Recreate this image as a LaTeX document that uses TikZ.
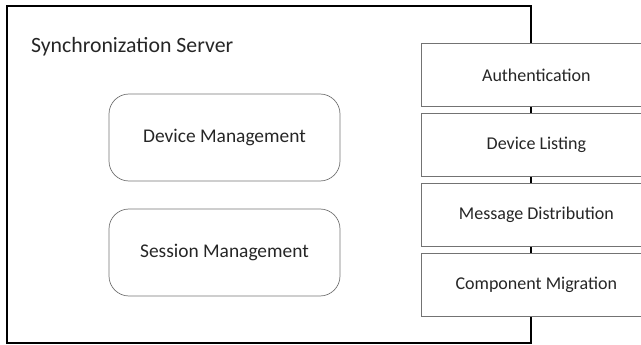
\documentclass[tikz,border=0pt]{standalone}
\usepackage{fontspec}
\setmainfont{Carlito}
\begin{document}
\begin{tikzpicture}[x=1pt,y=-1pt,
  txt/.style={text=black!85},
  module/.style={draw=black!55,line width=0.7pt,rounded corners=20pt,minimum width=231pt,minimum height=87pt,inner sep=0pt,font=\fontsize{19.4}{23}\selectfont,txt},
  iface/.style={draw=black!55,fill=white,line width=0.7pt,minimum width=230pt,minimum height=63pt,inner sep=0pt,anchor=north west,font=\fontsize{18}{21}\selectfont,txt}]
\useasboundingbox (0,0) rectangle (641,345);
\node[draw=black,line width=1.6pt,minimum width=524pt,minimum height=337pt,inner sep=0pt,anchor=north west] (server) at (6,5) {};
\node[anchor=base west,font=\fontsize{21.8}{26}\selectfont,txt] (title) at (27.5,53) {Synchronization Server};
\node[module] (dev) at (224.5,137.5) {Device Management};
\node[module] (ses) at (224.5,252.5) {Session Management};
\node[iface] (auth) at (421,43) {Authentication};
\node[iface] (list) at (421,113) {Device Listing};
\node[iface] (msg) at (421,183) {Message Distribution};
\node[iface] (mig) at (421,253) {Component Migration};
\end{tikzpicture}
\end{document}
